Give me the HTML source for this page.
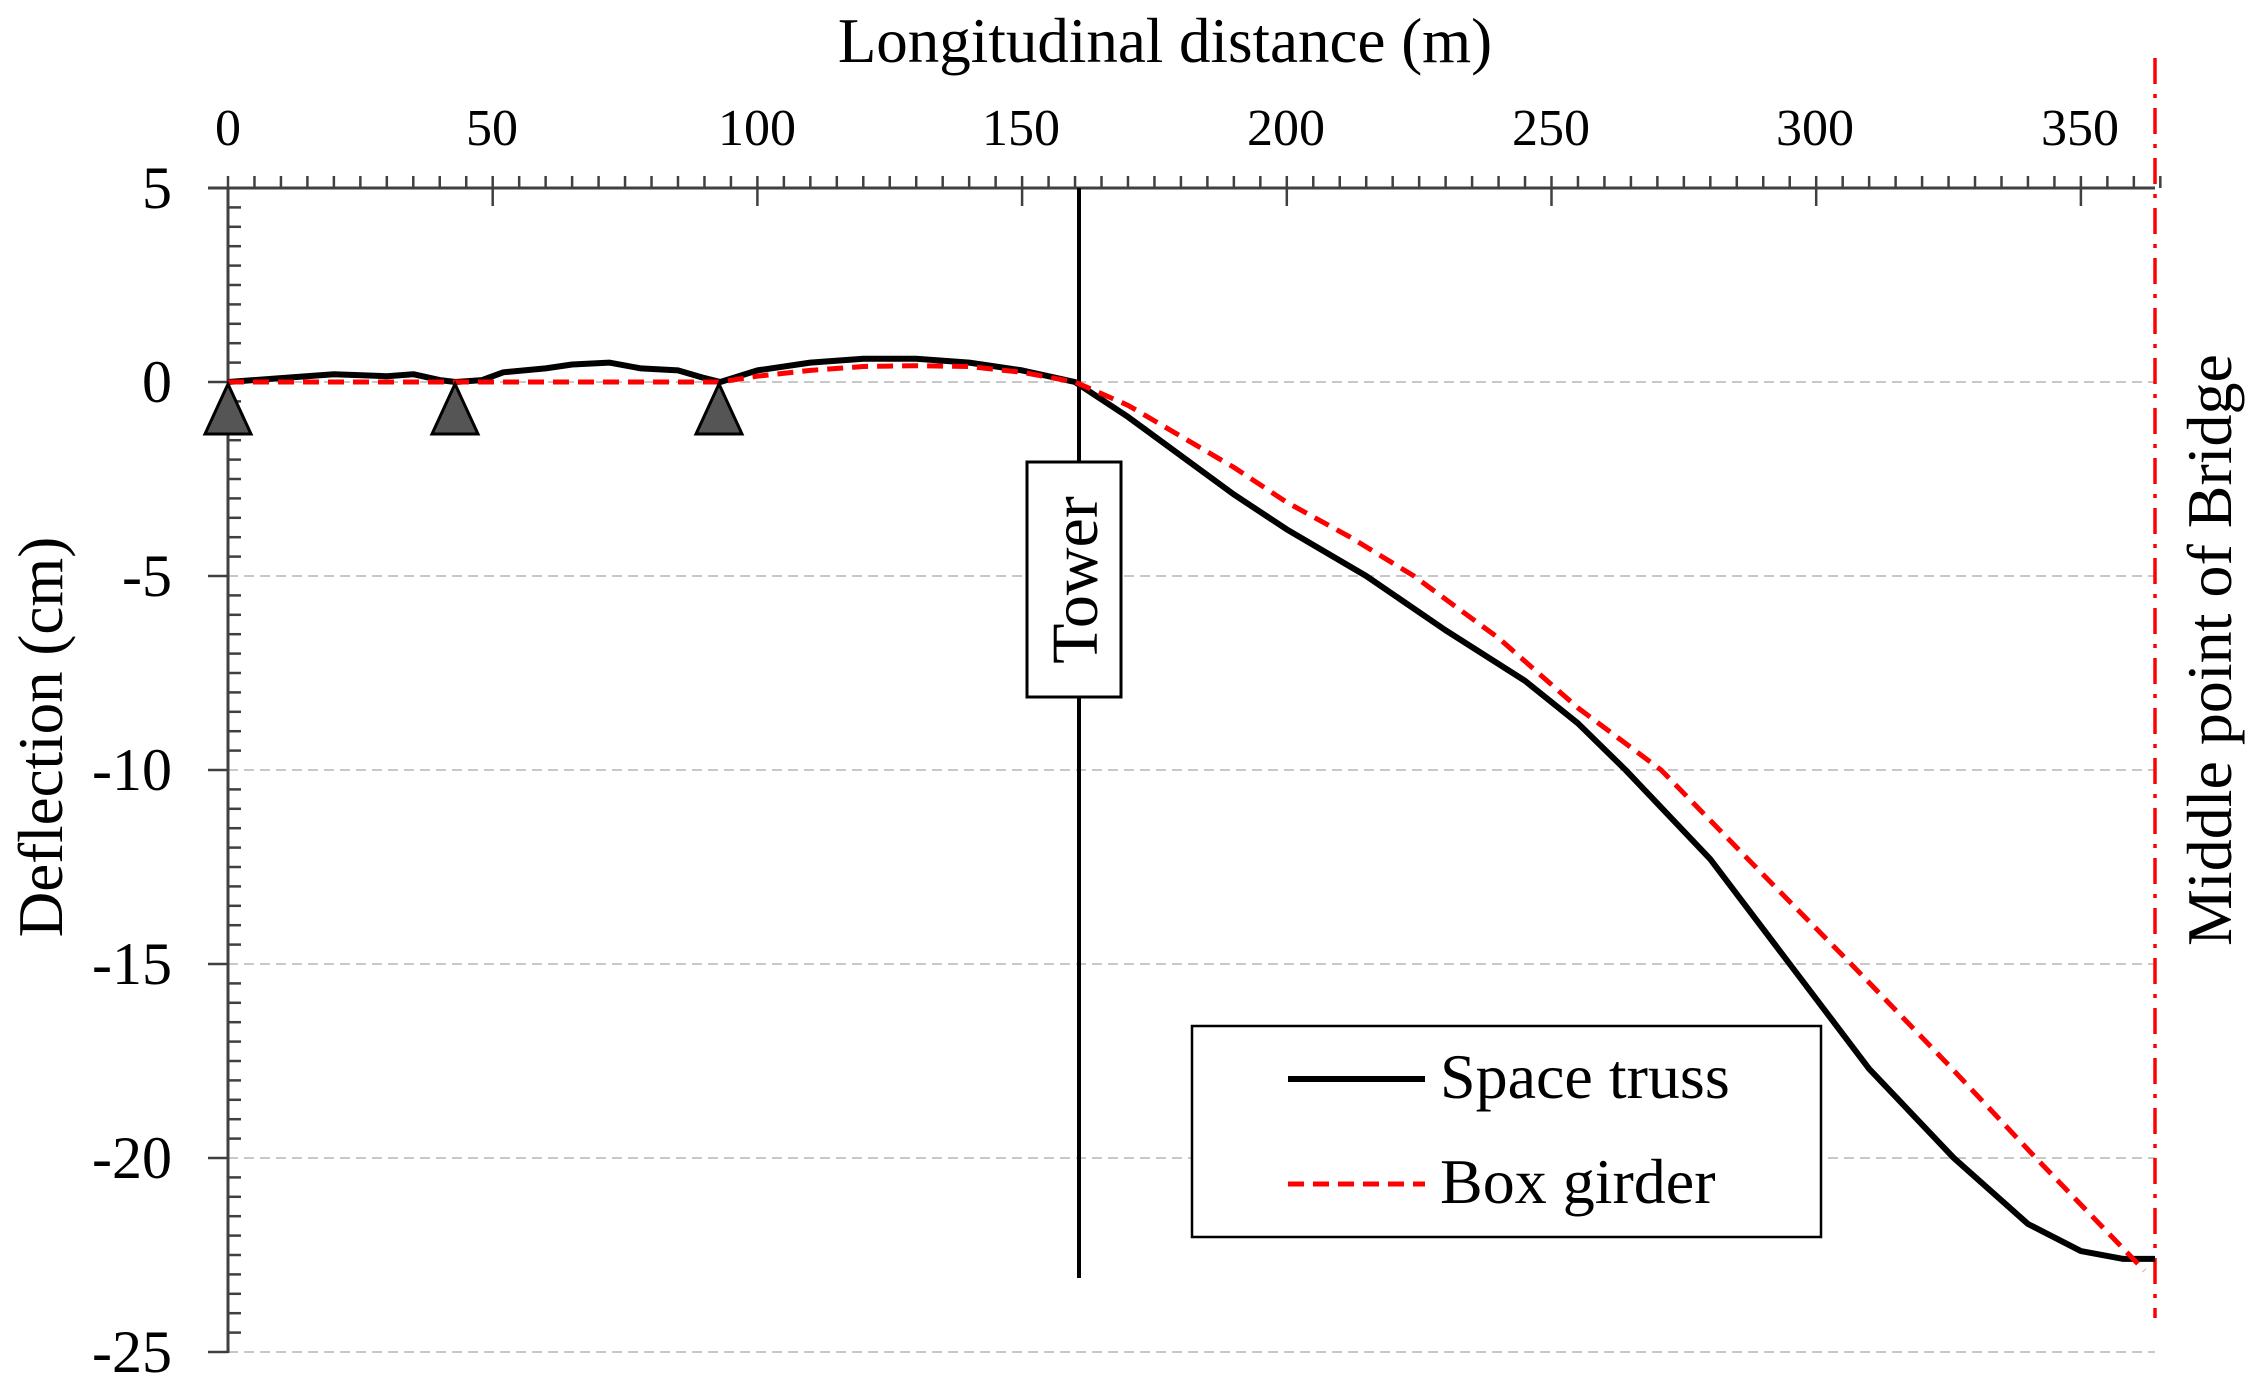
<!DOCTYPE html>
<html><head><meta charset="utf-8"><style>
html,body{margin:0;padding:0;background:#fff;}
svg{display:block;font-family:"Liberation Serif",serif;}
</style></head><body>
<svg width="2265" height="1396" viewBox="0 0 2265 1396" xmlns="http://www.w3.org/2000/svg">
<g id="grid" stroke="#c8c8c8" stroke-width="2" stroke-dasharray="10,6">
<line x1="228" y1="382" x2="2155" y2="382"/>
<line x1="228" y1="576" x2="2155" y2="576"/>
<line x1="228" y1="770" x2="2155" y2="770"/>
<line x1="228" y1="964" x2="2155" y2="964"/>
<line x1="228" y1="1158" x2="2155" y2="1158"/>
<line x1="228" y1="1352" x2="2155" y2="1352"/>
</g>
<g id="axes" stroke="#404040" stroke-width="3" fill="none">
<line x1="208" y1="188" x2="2155" y2="188"/>
<line x1="228" y1="188" x2="228" y2="1353"/>
</g>
<g stroke="#404040" stroke-width="2.5" id="ticks"></g>
<g font-size="52" fill="#000" text-anchor="middle">
<text x="228" y="145">0</text><text x="492" y="145">50</text><text x="757" y="145">100</text>
<text x="1021" y="145">150</text><text x="1286" y="145">200</text><text x="1551" y="145">250</text>
<text x="1815" y="145">300</text><text x="2080" y="145">350</text>
</g>
<g font-size="60" fill="#000" text-anchor="end">
<text x="172" y="208">5</text><text x="172" y="402">0</text><text x="172" y="596">-5</text>
<text x="172" y="790">-10</text><text x="172" y="984">-15</text><text x="172" y="1178">-20</text>
<text x="172" y="1372">-25</text>
</g>
<text x="1165" y="62" font-size="63" text-anchor="middle">Longitudinal distance (m)</text>
<text transform="translate(62,737) rotate(-90)" font-size="63" text-anchor="middle">Deflection (cm)</text>
<text transform="translate(2231,650) rotate(-90)" font-size="64" text-anchor="middle">Middle point of Bridge</text>
<line x1="2155" y1="58" x2="2155" y2="1318" stroke="#ff0000" stroke-width="3.5" stroke-dasharray="26,10,4,10"/>
<line x1="1079" y1="188" x2="1079" y2="1278" stroke="#000" stroke-width="4"/>
<rect x="1027" y="462" width="94" height="235" fill="#fff" stroke="#000" stroke-width="3"/>
<text transform="translate(1097,580) rotate(-90)" font-size="66" text-anchor="middle">Tower</text>
<polyline id="truss" fill="none" stroke="#000" stroke-width="6" stroke-linejoin="round" points=""/>
<polyline id="box" fill="none" stroke="#ff0000" stroke-width="5" stroke-dasharray="16,9" points=""/>
<g fill="#555" stroke="#000" stroke-width="3">
<polygon points="228,384 205,434 251,434"/>
<polygon points="455,384 432,434 478,434"/>
<polygon points="719,384 696,434 742,434"/>
</g>
<rect x="1192" y="1026" width="629" height="211" fill="#fff" stroke="#000" stroke-width="2.5"/>
<line x1="1288" y1="1079" x2="1425" y2="1079" stroke="#000" stroke-width="6"/>
<line x1="1288" y1="1184" x2="1425" y2="1184" stroke="#ff0000" stroke-width="5" stroke-dasharray="16,9"/>
<text x="1440" y="1098" font-size="64">Space truss</text>
<text x="1440" y="1203" font-size="64">Box girder</text>
<script>
var NS="http://www.w3.org/2000/svg";
var X=function(m){return 228+m*5.294;},Y=function(c){return 382-c*38.8;};
var t=document.getElementById('ticks');
function ln(x1,y1,x2,y2){var l=document.createElementNS(NS,'line');l.setAttribute('x1',x1);l.setAttribute('y1',y1);l.setAttribute('x2',x2);l.setAttribute('y2',y2);t.appendChild(l);}
for(var m=0;m<=365;m+=5){var x=X(m);if(m%50==0)ln(x,176,x,206);else ln(x,176,x,188);}
for(var i=0;i<=60;i++){var c=5-i*0.5,y=Y(c);if(i%10==0)ln(208,y,228,y);else ln(228,y,241,y);}
var tr=[[0,0],[10,0.1],[20,0.2],[30,0.15],[35,0.2],[40,0.05],[43,0],[48,0.05],[52,0.25],[60,0.35],[65,0.45],[72,0.5],[78,0.35],[85,0.3],[90,0.1],[93,0],[100,0.3],[110,0.5],[120,0.6],[130,0.6],[140,0.5],[150,0.3],[160,0],[170,-0.9],[180,-1.9],[190,-2.9],[200,-3.8],[215,-5],[230,-6.4],[245,-7.7],[255,-8.8],[264,-10],[280,-12.3],[295,-15],[310,-17.7],[326,-20],[340,-21.7],[350,-22.4],[358,-22.6],[364,-22.6]];
var bx=[[0,0],[93,0],[100,0.15],[110,0.3],[120,0.4],[130,0.42],[140,0.4],[150,0.25],[160,0],[170,-0.6],[180,-1.4],[190,-2.2],[200,-3.1],[212,-4.0],[224,-5],[240,-6.6],[255,-8.4],[270.7,-10],[290,-12.7],[306.6,-15],[325,-17.6],[341.5,-20],[362,-22.9]];
function pts(a){return a.map(function(p){return X(p[0]).toFixed(1)+','+Y(p[1]).toFixed(1);}).join(' ');}
document.getElementById('truss').setAttribute('points',pts(tr));
document.getElementById('box').setAttribute('points',pts(bx));
</script>
</svg>
</body></html>
